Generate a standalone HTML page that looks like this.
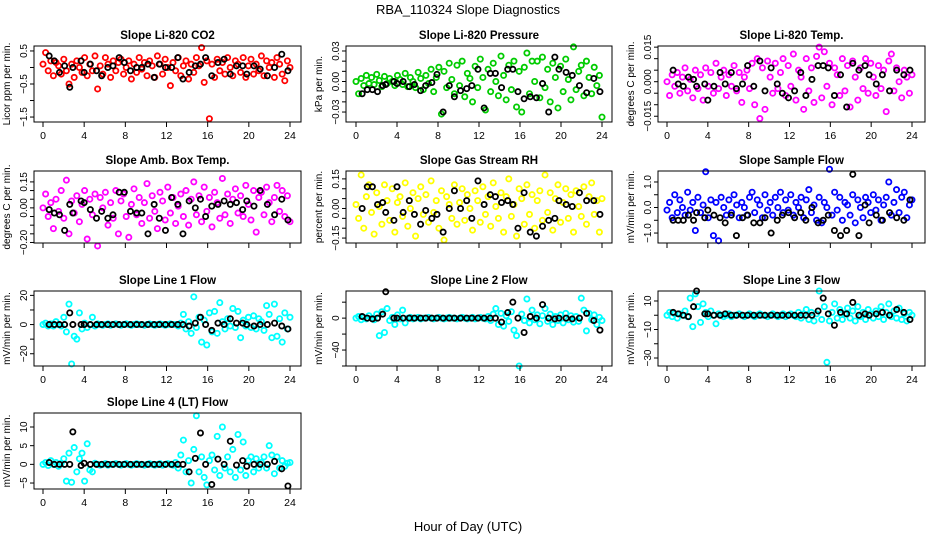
<!DOCTYPE html>
<html><head><meta charset="utf-8"><style>
body{margin:0;background:#fff;}
svg{display:block;font-family:"Liberation Sans",Arial,sans-serif;}
</style></head><body>
<svg id="chart" width="936" height="540" viewBox="0 0 936 540">
<text x="468" y="14" text-anchor="middle" font-size="13">RBA_110324  Slope Diagnostics</text>
<text x="468" y="531" text-anchor="middle" font-size="13">Hour of Day (UTC)</text>
</svg>
<script>
const xTicks=[0,4,8,12,16,20,24];
const blackHours=[0.6,1.1,1.6,2.1,2.6,2.9,3.7,4.0,4.6,5.2,5.7,6.3,6.8,7.4,7.9,8.5,9.1,9.6,10.2,10.8,11.3,11.9,12.5,13.1,13.6,14.2,14.8,15.3,15.8,16.4,17.0,17.6,18.2,18.8,19.4,19.8,20.5,21.1,21.8,22.5,23.2,23.8];
const co2=[0.1,0.45,-0.1,0.2,-0.25,0.15,0.05,-0.2,0.25,-0.1,-0.5,0.1,-0.3,0.2,0.0,-0.15,0.3,-0.25,0.1,-0.1,0.35,-0.65,0.05,-0.2,0.3,0.1,-0.3,0.2,-0.1,0.15,0.25,-0.2,0.0,0.2,-0.35,0.1,-0.15,0.3,-0.05,0.15,-0.25,0.2,0.05,-0.3,0.35,0.1,-0.2,0.25,0.0,-0.55,0.15,-0.1,0.3,-0.25,0.05,0.2,-0.35,0.1,-0.15,0.3,0.05,0.6,-0.45,0.2,-1.55,0.1,-0.3,0.25,-0.1,0.15,-0.2,0.3,0.0,-0.25,0.2,0.1,-0.15,0.3,-0.3,0.05,0.25,-0.2,0.1,-0.1,0.35,-0.25,0.2,0.0,0.15,-0.3,0.3,0.1,-0.2,-0.4,0.2,0.0];
const co2Black=[0.35,0.2,-0.15,0.05,-0.6,0.0,0.2,-0.15,0.1,-0.1,-0.25,0.0,0.05,0.3,0.15,-0.1,0.0,0.0,0.1,-0.3,0.1,0.0,0.0,0.3,-0.35,-0.15,0.05,0.1,0.3,-0.25,0.15,0.25,-0.2,0.05,0.05,-0.2,0.05,-0.05,-0.25,0.0,0.4,-0.1];
const press=[0.0,-0.012,0.003,-0.004,0.006,-0.002,0.004,-0.003,0.007,0.001,-0.005,0.005,-0.002,0.003,0.0,-0.004,0.006,0.002,-0.003,0.008,-0.005,0.004,0.0,-0.006,0.009,0.003,-0.008,0.006,-0.002,0.012,-0.01,0.004,0.014,-0.032,0.01,-0.006,0.018,0.002,-0.012,0.016,-0.004,0.02,-0.015,0.008,0.003,-0.02,0.015,-0.006,0.022,0.004,-0.028,0.012,-0.01,0.018,0.0,-0.014,0.025,0.006,-0.018,0.016,-0.008,0.02,-0.025,0.01,-0.03,0.014,0.028,-0.012,0.02,0.0,0.02,-0.016,0.024,-0.006,0.012,-0.02,0.018,0.004,-0.026,0.015,-0.01,0.022,0.002,-0.018,0.034,-0.008,0.01,0.016,-0.014,0.02,0.004,-0.012,0.014,-0.004,0.006,-0.035];
const pressBlack=[-0.012,-0.008,-0.008,-0.01,-0.004,-0.003,0.0,-0.002,0.0,-0.005,-0.003,-0.009,-0.004,-0.001,0.007,-0.03,-0.004,-0.015,-0.009,-0.007,-0.004,0.012,-0.026,0.008,0.008,-0.006,0.012,0.012,-0.01,-0.017,-0.015,-0.016,-0.002,-0.03,0.024,0.012,0.009,0.006,-0.004,-0.011,0.003,-0.01];
const temp=[0.0,-0.006,0.003,-0.002,0.004,-0.005,0.002,0.006,-0.004,0.001,-0.007,0.005,-0.003,0.003,-0.008,0.006,-0.002,0.004,-0.005,0.008,-0.003,0.002,0.005,-0.006,0.003,-0.002,0.007,-0.004,0.004,-0.009,0.002,0.005,-0.003,0.008,-0.01,0.01,-0.016,0.006,-0.012,0.009,0.002,-0.005,0.008,-0.003,0.004,0.01,-0.006,0.007,-0.002,0.012,-0.008,0.005,0.002,-0.012,0.01,-0.004,0.006,-0.009,0.011,0.015,-0.007,0.013,-0.002,0.008,-0.01,0.006,0.003,-0.006,0.01,-0.004,0.007,-0.011,0.009,0.002,-0.008,0.006,-0.003,0.01,-0.005,0.008,0.002,-0.006,0.007,-0.003,0.005,-0.013,0.009,0.012,-0.004,0.006,0.0,-0.007,0.005,0.002,-0.005,0.003];
const tempBlack=[0.005,-0.001,-0.002,0.002,0.001,-0.002,-0.001,-0.008,-0.002,0.004,-0.001,0.004,-0.003,-0.001,0.007,-0.002,0.009,-0.004,0.006,-0.001,-0.005,-0.007,-0.004,0.004,-0.006,0.001,0.007,0.007,0.006,-0.006,0.003,-0.011,0.008,0.005,0.007,0.003,-0.001,0.003,-0.004,0.005,0.003,0.005];
const amb=[0.0,0.08,-0.05,0.03,-0.12,0.05,-0.02,0.1,-0.06,0.16,-0.15,0.04,-0.03,0.07,-0.08,0.02,0.1,-0.18,0.05,-0.04,0.08,-0.22,0.06,0.0,0.09,-0.1,0.03,-0.06,0.1,-0.15,0.04,0.08,-0.05,-0.17,0.02,0.11,-0.04,0.06,-0.09,0.03,0.14,-0.06,0.07,-0.02,-0.12,0.09,0.04,-0.07,0.12,-0.03,0.06,-0.09,0.01,0.08,-0.05,0.1,-0.1,0.05,0.15,-0.04,0.07,-0.08,0.12,-0.02,0.06,-0.11,0.09,0.03,-0.06,0.17,-0.04,0.08,-0.09,0.05,0.11,-0.03,0.07,-0.05,0.13,0.02,-0.07,0.1,-0.14,0.06,0.09,-0.04,0.12,0.03,-0.08,0.06,0.13,-0.02,0.1,-0.05,0.07,-0.08];
const ambBlack=[-0.01,-0.03,-0.04,-0.13,0.02,-0.03,0.04,0.03,-0.01,-0.06,-0.02,-0.06,-0.04,0.09,0.09,-0.02,-0.03,-0.03,-0.15,0.02,-0.06,-0.13,0.06,0.02,-0.15,0.04,0.0,0.05,-0.05,0.01,0.02,0.04,0.02,0.03,-0.01,0.04,0.01,0.1,0.02,-0.04,0.05,-0.07];
const rh=[0.02,-0.05,0.17,-0.1,0.06,0.12,-0.02,-0.13,0.08,0.01,-0.08,0.12,0.04,-0.06,0.1,-0.12,0.03,0.06,-0.04,0.13,-0.09,0.0,0.08,-0.14,0.05,0.11,-0.03,0.07,-0.07,0.14,-0.02,0.04,-0.1,0.09,-0.16,0.06,0.02,-0.05,0.12,-0.08,0.03,0.1,-0.06,0.07,0.0,-0.11,0.09,0.04,-0.07,0.11,-0.03,0.06,-0.09,0.13,0.01,-0.05,0.08,-0.12,0.06,0.15,-0.04,0.02,-0.14,0.1,0.05,-0.08,0.12,-0.03,0.07,-0.1,0.04,0.09,-0.06,0.17,-0.02,0.08,-0.11,0.05,0.12,-0.07,0.03,0.1,-0.05,0.07,-0.12,0.09,0.01,-0.04,0.11,-0.08,0.06,0.13,-0.03,0.04,-0.12,0.05];
const rhBlack=[0.0,0.11,0.11,0.02,0.03,-0.02,-0.06,0.11,-0.02,0.04,-0.03,-0.08,-0.01,-0.05,-0.03,-0.12,0.0,0.09,0.0,0.04,-0.05,0.14,0.02,0.07,0.06,0.03,0.04,0.02,-0.1,0.08,-0.12,-0.14,-0.09,-0.06,-0.05,0.04,0.02,0.01,0.08,0.04,0.04,-0.03];
const samp=[-0.1,0.2,-0.4,0.5,-0.2,0.3,0.0,-0.3,0.6,-0.1,0.2,-0.9,0.4,-0.2,0.1,1.4,-0.4,0.3,-1.1,0.2,-1.3,0.4,0.0,-0.3,0.3,-0.2,0.5,0.1,-0.4,0.2,0.0,-0.3,0.4,0.6,-0.2,0.3,0.1,-0.4,0.5,-0.1,0.2,-0.3,0.4,0.0,0.6,-0.2,0.3,-0.1,0.5,-0.3,0.2,0.0,0.4,-0.4,0.3,0.7,-0.2,0.1,-0.5,0.4,-0.6,0.2,0.0,1.5,-0.3,0.6,-0.1,0.4,-0.5,0.2,0.1,-0.3,0.5,-0.6,0.3,0.0,-0.4,0.4,0.2,-0.2,0.5,-0.1,0.3,-0.5,0.1,0.4,1.0,-0.3,0.2,0.7,-0.2,0.4,0.6,-0.4,0.1,0.3];
const sampBlack=[-0.5,-0.5,-0.5,-0.3,-0.5,-0.2,-0.4,-0.1,-0.3,-0.4,-0.6,-0.3,-1.1,-0.4,-0.3,-0.6,-0.6,-0.4,-1.0,-0.5,-0.3,-0.2,-0.4,-0.2,-0.5,0.0,-0.6,-0.5,-0.3,-0.9,-1.1,-0.9,1.3,-1.1,0.1,-0.6,-0.3,-0.5,-0.2,-0.4,-0.5,0.3];
const line1=[0,1,-1,0.5,-1,2,0,-1,5,-5,14,-27,-8,-10,8,-3,1,-2,0,5,-1,0.5,0,-0.5,0,0.5,-0.5,0,0.5,0,-0.5,0,0.5,0,-0.5,0,0.5,0,0,-0.5,0,0.5,0,-0.5,0,0.5,0,-0.5,0,0.5,0,0,-1,1,7,-3,2,-6,19,-2,5,-12,3,-14,8,-5,9,-6,15,2,-3,4,-1,11,-2,9,-9,3,-1,5,-2,6,-3,4,2,-4,13,7,-9,14,-8,4,-12,8,-3,5];
const line1Black=[0,0,0,0,8,0,0,0,0,0,0,0,0,0,0,0,0,0,0,0,0,0,0,0,0,-1,1,5,0,-4,1,0,4,1,1,0,-1,0,0,1,-1,-3];
const line2=[0,2,-2,1,-1,3,0,-2,5,-22,8,-18,12,-3,1,-8,4,-1,10,-6,0,1,-1,0,1,-1,0,0,1,0,-1,0,1,0,-1,0,1,0,0,-1,0,1,0,-1,0,1,-1,0,1,0,-1,2,-3,5,12,-8,6,-10,3,-4,8,-15,-22,-60,5,-3,24,-6,10,-2,4,-7,3,12,-4,5,-8,2,-3,4,-6,6,-2,3,-5,2,-4,25,10,-16,6,-2,4,-8,1,-3];
const line2Black=[2,0,-1,0,5,33,0,0,0,0,0,0,0,0,0,0,0,0,0,0,0,0,0,0,0,-5,7,20,0,-18,2,0,17,0,-1,0,0,-1,0,6,-3,-15];
const line3=[0,2,-1,1,-2,1,0,3,-1,12,-8,15,6,-5,8,2,-1,3,0,-6,1,0,-1,0,1,-1,0,0,1,0,-1,0,1,0,-1,0,1,0,0,-1,0,1,0,-1,0,1,-1,0,1,0,-1,2,-2,1,4,-3,2,-4,1,17,-3,6,-33,-4,2,8,-2,4,-3,1,5,-2,3,-4,6,-1,2,-3,4,1,-2,3,-1,6,-3,2,8,-1,3,-2,5,-3,1,-4,2,0];
const line3Black=[2,1,0,-1,6,17,1,1,0,0,1,0,0,0,0,0,0,0,0,0,0,0,0,0,0,0,3,12,1,-7,2,1,9,0,1,0,1,2,0,4,2,-3];
const line4=[0,0.5,-0.3,1,0,0.5,-0.5,0.3,1.5,-4.5,3,-4.8,4.5,-2,1.5,3,-4.5,5.5,-1.5,-2,0.3,0,-0.2,0,0.2,-0.2,0,0,0.2,0,-0.2,0,0.2,0,-0.2,0,0.2,0,0,-0.2,0,0.2,0,-0.2,0,0.2,-0.2,0,0.2,0,-0.2,0.5,-1,2.5,6.5,-2,1,-5,4,13,-2,2,-3.5,-5.5,1,2.5,-1.5,7.5,-3,10,-1,2,-2,4,-3.5,8,-1.5,6,-3,1,2,-2,1.5,-1,0.5,2,-1,5,2.5,-2.5,2,-1,1,-0.5,0.3,0.5];
const line4Black=[0.5,0,0,0,0,8.7,-0.3,0.3,0,0,0,0,0,0,0,0,0,0,0,0,0,0,0,0,0,-2,1.6,8.4,0,-5.4,1.4,0,6.2,-0.2,1,-0.5,0,0,0,0.8,-1.2,-5.8];
const yTicksCO2=[0.5,0,-0.5,-1,-1.5], yLabelsCO2=["0.5","","−0.5","","−1.5"];
const yTicksPress=[0.03,0.02,0.01,0,-0.01,-0.02,-0.03], yLabelsPress=["0.03","","","0.00","","","−0.03"];
const yTicksTemp=[0.015,0.01,0.005,0,-0.005,-0.01,-0.015], yLabelsTemp=["0.015","","","0.000","","","−0.015"];
const yTicksAmb=[0.15,0.1,0.05,0,-0.05,-0.1,-0.15,-0.2], yLabelsAmb=["0.15","","","0.00","","","","−0.20"];
const yTicksRH=[0.15,0.1,0.05,0,-0.05,-0.1,-0.15], yLabelsRH=["0.15","","","0.00","","","−0.15"];
const yTicksSamp=[1,0.5,0,-0.5,-1], yLabelsSamp=["1.0","","0.0","","−1.0"];
const yTicksL1=[20,10,0,-10,-20], yLabelsL1=["20","","0","","−20"];
const yTicksL2=[20,0,-20,-40,-60], yLabelsL2=["","0","","−40",""];
const yTicksL3=[10,0,-10,-20,-30], yLabelsL3=["10","","−10","","−30"];
const yTicksL4=[10,5,0,-5], yLabelsL4=["10","5","0","−5"];

const NS="http://www.w3.org/2000/svg";
const svg=document.getElementById('chart');
function mk(tag,attrs,parent){const e=document.createElementNS(NS,tag);for(const k in attrs)e.setAttribute(k,attrs[k]);(parent||svg).appendChild(e);return e;}
const cols=[{l:34,r:301,x0:43,x1:290},{l:346,r:612,x0:356,x1:602},{l:658,r:925,x0:667,x1:912}];
const rows=[{t:46,b:122},{t:171,b:243},{t:291,b:366},{t:413,b:489}];
const panels=[
 {title:"Slope Li-820 CO2",ylab:"Licor ppm per min.",c:0,r:0,color:"#ff0000",vals:co2,blk:co2Black,ticks:yTicksCO2,labs:yLabelsCO2,ymax:0.65,ymin:-1.65,id:"co2"},
 {title:"Slope Li-820 Pressure",ylab:"kPa per min.",c:1,r:0,color:"#00cc00",vals:press,blk:pressBlack,ticks:yTicksPress,labs:yLabelsPress,ymax:0.0349,ymin:-0.0398,id:"pressure"},
 {title:"Slope Li-820 Temp.",ylab:"degrees C per min.",c:2,r:0,color:"#ff00ff",vals:temp,blk:tempBlack,ticks:yTicksTemp,labs:yLabelsTemp,ymax:0.0155,ymin:-0.0175,id:"li820-temp"},
 {title:"Slope Amb. Box Temp.",ylab:"degrees C per min.",c:0,r:1,color:"#ff00ff",vals:amb,blk:ambBlack,ticks:yTicksAmb,labs:yLabelsAmb,ymax:0.213,ymin:-0.203,id:"amb-temp"},
 {title:"Slope Gas Stream RH",ylab:"percent per min.",c:1,r:1,color:"#ffff00",vals:rh,blk:rhBlack,ticks:yTicksRH,labs:yLabelsRH,ymax:0.19,ymin:-0.175,id:"rh"},
 {title:"Slope Sample Flow",ylab:"mV/min per min.",c:2,r:1,color:"#0000ff",vals:samp,blk:sampBlack,ticks:yTicksSamp,labs:yLabelsSamp,ymax:1.43,ymin:-1.39,id:"sample-flow"},
 {title:"Slope Line 1 Flow",ylab:"mV/min per min.",c:0,r:2,color:"#00ffff",vals:line1,blk:line1Black,ticks:yTicksL1,labs:yLabelsL1,ymax:23,ymin:-28.4,id:"line1-flow"},
 {title:"Slope Line 2 Flow",ylab:"mV/min per min.",c:1,r:2,color:"#00ffff",vals:line2,blk:line2Black,ticks:yTicksL2,labs:yLabelsL2,ymax:34,ymin:-60,id:"line2-flow"},
 {title:"Slope Line 3 Flow",ylab:"mV/min per min.",c:2,r:2,color:"#00ffff",vals:line3,blk:line3Black,ticks:yTicksL3,labs:yLabelsL3,ymax:17,ymin:-35.6,id:"line3-flow"},
 {title:"Slope Line 4 (LT) Flow",ylab:"mV/min per min.",c:0,r:3,color:"#00ffff",vals:line4,blk:line4Black,ticks:yTicksL4,labs:yLabelsL4,ymax:13.75,ymin:-6.6,id:"line4-flow"}
];
panels.forEach(p=>{
 const C=cols[p.c],R=rows[p.r];
 const g=mk('g',{});
 
 
 const xs=h=>C.x0+(h/24)*(C.x1-C.x0);
 const ys=v=>R.t+(p.ymax-v)/(p.ymax-p.ymin)*(R.b-R.t);
 const t=mk('text',{x:(C.l+C.r)/2,y:R.t-7,'text-anchor':'middle','font-size':11.5,'font-weight':'bold'},g);
 t.textContent=p.title;
 
 
 const yl=mk('text',{x:0,y:0,'text-anchor':'middle','font-size':10,transform:`translate(${C.l-24},${(R.t+R.b)/2}) rotate(-90)`},g);
 yl.textContent=p.ylab;
 
 
 const n=p.vals.length;
 p.vals.forEach((v,i)=>{
  const c=mk('circle',{cx:xs(i*24/(n-1)),cy:ys(v),r:2.6,fill:'none',stroke:p.color,'stroke-width':1.8},g);
  
  
 });
 p.blk.forEach((v,i)=>{
  const c=mk('circle',{cx:xs(blackHours[i]),cy:ys(v),r:2.6,fill:'none',stroke:'#000','stroke-width':1.8},g);
  
  
 });
 const box=mk('rect',{x:C.l,y:R.t,width:C.r-C.l,height:R.b-R.t,fill:'none',stroke:'#000','stroke-width':1},g);
 
 
 xTicks.forEach(h=>{
  mk('line',{x1:xs(h),x2:xs(h),y1:R.b,y2:R.b+5,stroke:'#000'},g);
  if(p.r===1) return;
  const tl=mk('text',{x:xs(h),y:R.b+17,'text-anchor':'middle','font-size':10.5},g);
  tl.textContent=h;
  
  
 });
 const ax=C.l;
 p.ticks.forEach((v,i)=>{
  mk('line',{x1:ax-4,x2:ax,y1:ys(v),y2:ys(v),stroke:'#000'},g);
  if(!p.labs[i]) return;
  const tl=mk('text',{x:0,y:0,'text-anchor':'middle','font-size':10,transform:`translate(${ax-7},${ys(v)}) rotate(-90)`},g);
  tl.textContent=p.labs[i];
  
  
 });
});
</script>
</body></html>
